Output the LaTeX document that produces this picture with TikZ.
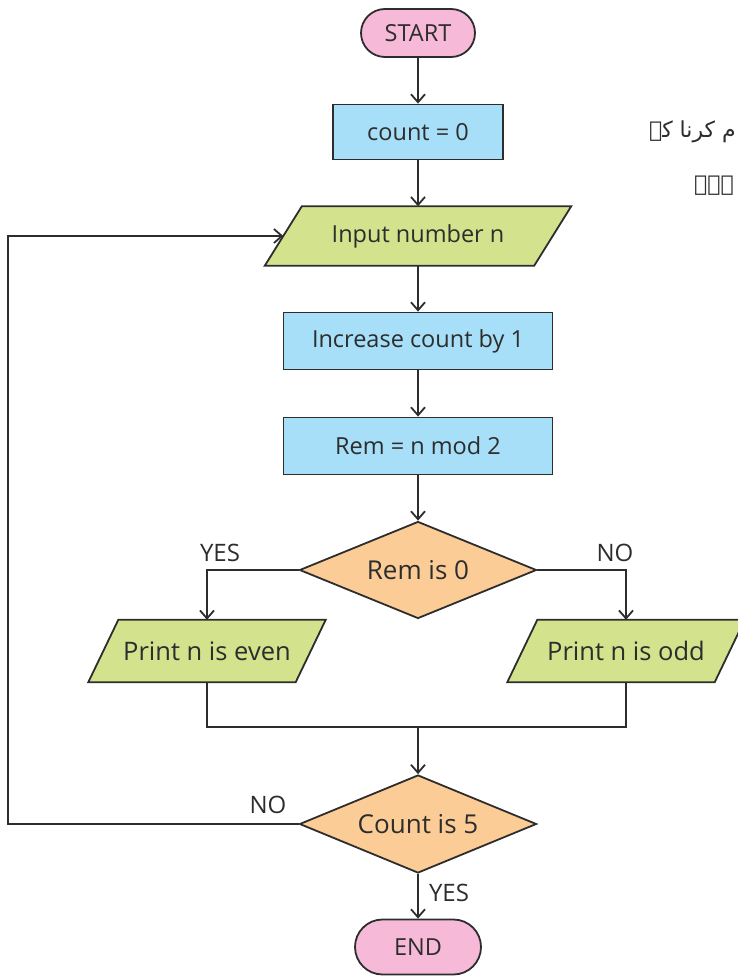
\documentclass[tikz,border=0pt]{standalone}
\usepackage{fontspec}
\setmainfont{Open Sans}
\newfontfamily\urdufont[Script=Arabic]{DejaVu Sans}
\TeXXeTstate=1
\usetikzlibrary{shapes.geometric,shapes.misc,arrows.meta,calc,backgrounds}

\definecolor{linegray}{RGB}{45,45,45}
\definecolor{termpink}{RGB}{246,185,216}
\definecolor{procblue}{RGB}{166,223,247}
\definecolor{iogreen}{RGB}{211,226,140}
\definecolor{decorange}{RGB}{252,204,150}

\tikzset{
  line/.style={draw=linegray, line width=1.8pt},
  arr/.style={line, -{Straight Barb[length=8pt,width=14pt]}},
  boxtext/.style={font=\fontsize{23.5}{27}\selectfont, text=linegray},
  term/.style={rounded rectangle, draw=linegray, line width=1.8pt, fill=termpink,
    inner sep=0pt, boxtext},
  proc/.style={rectangle, draw=linegray, line width=1.8pt, fill=procblue,
    inner sep=0pt, boxtext},
  decide/.style={diamond, aspect=2.44, draw=linegray, line width=1.8pt, fill=decorange,
    inner sep=0pt, text=linegray, font=\fontsize{26}{30}\selectfont},
  iobox/.style={rectangle, inner sep=0pt, text=linegray, font=\fontsize{25.5}{29}\selectfont},
  iofill/.style={draw=linegray, line width=1.8pt, fill=iogreen, line join=miter},
  lbl/.style={font=\fontsize{24}{28}\selectfont, text=linegray, inner sep=0pt},
}

\begin{document}
\begin{tikzpicture}[x=1pt,y=-1pt]
  \useasboundingbox (0,0) rectangle (737,979);

  % terminals
  \node[term, minimum width=114pt, minimum height=48pt] (start) at (418,33) {START};
  \node[term, minimum width=126pt, minimum height=55pt] (endn) at (418,947) {END};

  % process boxes
  \node[proc, minimum width=170pt, minimum height=55pt] (cnt) at (418,132) {count = 0};
  \node[proc, minimum width=269pt, minimum height=57pt] (inc) at (418,341) {Increase count by 1};
  \node[proc, minimum width=269pt, minimum height=57pt] (rem) at (418,446) {Rem = n mod 2};

  % input / output boxes (parallelograms drawn below)
  \node[iobox, minimum width=269pt, minimum height=59pt, font=\fontsize{23.5}{27}\selectfont] (inp) at (418,236) {Input number n};
  \node[iobox, minimum width=207pt, minimum height=62pt] (even) at (207,651) {Print n is even};
  \node[iobox, minimum width=207pt, minimum height=62pt] (odd) at (626,651) {Print n is odd};

  % decisions
  \node[decide, minimum width=237pt, minimum height=97pt] (rem0) at (418,570) {Rem is 0};
  \node[decide, minimum width=237pt, minimum height=98pt] (c5) at (418,824) {Count is 5};

  \begin{scope}[on background layer]
    \foreach \n/\s in {inp/18.5, even/15, odd/15}{
      \path[iofill] ($(\n.south west)+(-\s,0)$) -- ($(\n.south east)+(-\s,0)$)
        -- ($(\n.north east)+(\s,0)$) -- ($(\n.north west)+(\s,0)$) -- cycle;
    }
  \end{scope}

  % connectors
  \coordinate (join) at (418,727);
  \coordinate (loop) at (8,236);
  \draw[arr] (start) -- (cnt);
  \draw[arr] (cnt) -- (inp);
  \draw[arr] (inp) -- (inc);
  \draw[arr] (inc) -- (rem);
  \draw[arr] (rem) -- (rem0);
  \draw[arr] (rem0.west) -| (even.north);
  \draw[arr] (rem0.east) -| (odd.north);
  \draw[line] (even.south) |- (join) -| (odd.south);
  \draw[arr] (join) -- (c5);
  \draw[arr] (c5.west) -| (loop) -- (inp.west);
  \draw[arr] (c5) -- (endn);

  % branch labels
  \node[lbl] (yes1) at (220,553) {YES};
  \node[lbl] (no1) at (615,553) {NO};
  \node[lbl] (no2) at (268,805) {NO};
  \node[lbl] (yes2) at (449,893) {YES};

  % Urdu text fragments at the right margin
  \node[anchor=east, inner sep=0pt, text=linegray, font=\urdufont\fontsize{22}{26}\selectfont] (ur1) at (736,132) {\beginR م کرنا کہ\endR};
  \node[anchor=east, inner sep=0pt, text=linegray, font=\urdufont\fontsize{22}{26}\selectfont] (ur2) at (734,186) {\beginR ہے۔\endR};
\end{tikzpicture}
\end{document}
